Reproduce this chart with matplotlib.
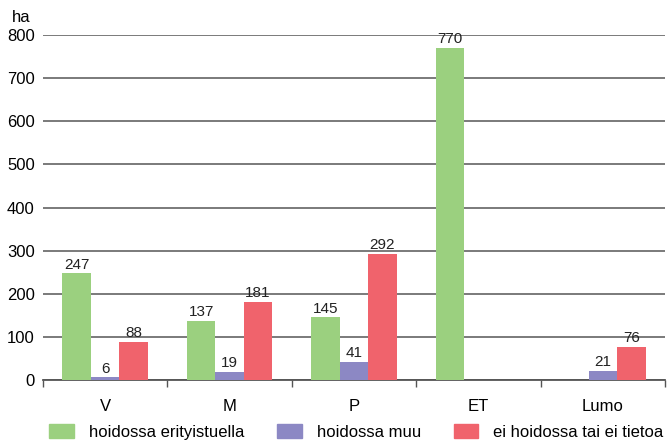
import numpy as np
import matplotlib
matplotlib.use("Agg")
from matplotlib import pyplot as plt
from matplotlib.patches import Patch

plt.rcParams["font.family"] = ["Liberation Sans", "DejaVu Sans"]

categories = ["V", "M", "P", "ET", "Lumo"]
series_names = ["hoidossa erityistuella", "hoidossa muu", "ei hoidossa tai ei tietoa"]
erityistuella = [247, 137, 145, 770, None]
muu = [6, 19, 41, None, 21]
ei_hoidossa = [88, 181, 292, None, 76]
colors = ["#9bd07f", "#8c88c4", "#f0636c"]

fig = plt.figure(figsize=(6.68, 4.43), dpi=100)
ax = fig.add_axes([43 / 668, 1 - 380 / 443, 622 / 668, 345 / 443])

x = np.arange(len(categories))
w = 0.229
for i, (vals, col) in enumerate(zip([erityistuella, muu, ei_hoidossa], colors)):
    for xi, v in zip(x, vals):
        if v is None:
            continue
        xp = xi + (i - 1) * w
        ax.bar(xp, v, width=w, color=col, zorder=3)
        ax.annotate(str(v), (xp, v), xytext=(0, 3.5), textcoords="offset points",
                    ha="center", va="baseline", fontsize=11, color="#222222", zorder=4)

ax.set_xlim(-0.5, len(categories) - 0.5)
ax.set_ylim(0, 800)
ax.set_yticks(range(0, 801, 100))
ax.yaxis.grid(True, color="#707070", lw=1.3, zorder=1)
ax.tick_params(axis="y", length=0, pad=6, labelsize=12)
ax.set_xticks(x)
ax.set_xticklabels(categories, fontsize=12)
ax.tick_params(axis="x", length=0, pad=14)
ax.set_xticks(np.arange(-0.5, len(categories)), minor=True)
ax.tick_params(axis="x", which="minor", length=5, color="#555555", width=1)
for s in ["left", "right", "top"]:
    ax.spines[s].set_visible(False)
ax.spines["bottom"].set_color("#555555")
ax.spines["bottom"].set_linewidth(1.3)

fig.text(12 / 668, 1 - 17 / 443, "ha", fontsize=12, ha="left", va="center")

handles = [Patch(color=c) for c in colors]
fig.legend(handles, series_names, loc="center", bbox_to_anchor=(356.5 / 668, 1 - 432 / 443),
           ncol=3, frameon=False, fontsize=12, handlelength=1.45, handleheight=0.85,
           columnspacing=2.0, handletextpad=0.9)

fig.savefig("out.png", dpi=100)
